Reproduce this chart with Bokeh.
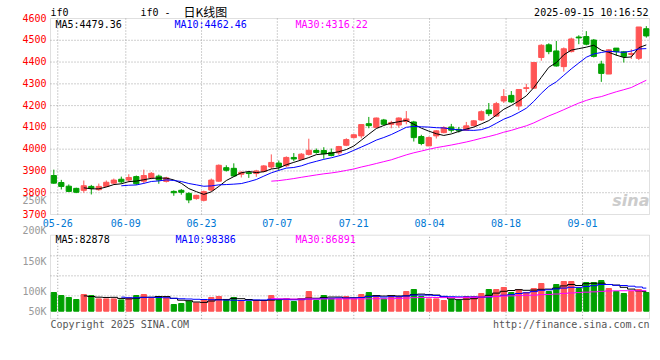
import pandas as pd
from bokeh.plotting import figure
from bokeh.models import ColumnDataSource, Label, Range1d, BoxAnnotation
from bokeh.embed import file_html
from bokeh.resources import INLINE

# ---------------- data ----------------
DATES = ["05-26", "05-27", "05-28", "05-29", "05-30",
         "06-03", "06-04", "06-05", "06-06", "06-09", "06-10", "06-11", "06-12", "06-13",
         "06-16", "06-17", "06-18", "06-19", "06-20", "06-23", "06-24", "06-25", "06-26", "06-27",
         "06-30", "07-01", "07-02", "07-03", "07-04", "07-07", "07-08", "07-09", "07-10", "07-11",
         "07-14", "07-15", "07-16", "07-17", "07-18", "07-21", "07-22", "07-23", "07-24", "07-25",
         "07-28", "07-29", "07-30", "07-31", "08-01", "08-04", "08-05", "08-06", "08-07", "08-08",
         "08-11", "08-12", "08-13", "08-14", "08-15", "08-18", "08-19", "08-20", "08-21", "08-22",
         "08-25", "08-26", "08-27", "08-28", "08-29", "09-01", "09-02", "09-03", "09-04", "09-05",
         "09-08", "09-09", "09-10", "09-11", "09-12", "09-15"]

OPEN = [3879, 3847, 3830, 3820, 3811, 3829, 3814, 3829, 3844, 3862,
        3858, 3874, 3853, 3868, 3876, 3852, 3806, 3811, 3797, 3773,
        3765, 3812, 3853, 3915, 3912, 3885, 3892, 3888, 3898, 3918,
        3936, 3924, 3962, 3953, 3976, 3994, 3994, 3985, 3983, 4018,
        4053, 4061, 4117, 4099, 4134, 4114, 4111, 4127, 4125, 4058,
        4015, 4061, 4076, 4102, 4091, 4087, 4108, 4134, 4180, 4152,
        4221, 4247, 4198, 4279, 4280, 4421, 4479, 4451, 4379, 4448,
        4515, 4517, 4501, 4391, 4345, 4464, 4447, 4435, 4417, 4553]
HIGH = [3906, 3859, 3838, 3823, 3856, 3836, 3842, 3856, 3865, 3874,
        3885, 3879, 3906, 3895, 3883, 3873, 3811, 3817, 3802, 3791,
        3810, 3865, 3930, 3926, 3935, 3898, 3898, 3905, 3927, 3976,
        3948, 3967, 3982, 3982, 4048, 4003, 4009, 4003, 4015, 4050,
        4069, 4114, 4148, 4145, 4139, 4130, 4146, 4175, 4130, 4066,
        4058, 4087, 4105, 4116, 4102, 4125, 4134, 4178, 4212, 4217,
        4276, 4267, 4274, 4300, 4398, 4482, 4486, 4497, 4467, 4512,
        4523, 4542, 4506, 4406, 4459, 4464, 4451, 4459, 4561, 4565]
LOW = [3841, 3815, 3803, 3798, 3800, 3792, 3809, 3826, 3836, 3842,
       3848, 3836, 3841, 3862, 3841, 3847, 3786, 3791, 3752, 3768,
       3760, 3805, 3850, 3897, 3874, 3870, 3868, 3873, 3894, 3909,
       3903, 3918, 3945, 3950, 3971, 3979, 3956, 3967, 3974, 4014,
       4050, 4050, 4096, 4098, 4110, 4096, 4099, 4114, 4035, 4018,
       4014, 4049, 4073, 4076, 4076, 4084, 4105, 4130, 4152, 4149,
       4212, 4212, 4179, 4262, 4279, 4406, 4436, 4379, 4356, 4444,
       4482, 4477, 4421, 4309, 4345, 4429, 4398, 4414, 4409, 4512]
CLOSE = [3844, 3829, 3806, 3802, 3832, 3820, 3829, 3848, 3858, 3850,
         3870, 3841, 3879, 3889, 3858, 3868, 3800, 3802, 3767, 3788,
         3805, 3858, 3926, 3903, 3877, 3894, 3888, 3900, 3923, 3939,
         3918, 3962, 3955, 3977, 3995, 3985, 3979, 3971, 4012, 4044,
         4066, 4113, 4108, 4143, 4114, 4122, 4143, 4139, 4053, 4026,
         4053, 4084, 4099, 4087, 4084, 4107, 4130, 4172, 4163, 4209,
         4242, 4217, 4274, 4282, 4398, 4477, 4448, 4382, 4461, 4506,
         4511, 4482, 4426, 4348, 4456, 4448, 4426, 4439, 4561, 4520]
VOLUME = [80400, 67500, 58900, 50300, 71800, 67500, 52900, 52900, 52900, 48600,
          57200, 67500, 71800, 54600, 63200, 57200, 28800, 33100, 43000, 35700,
          48600, 58900, 63200, 46000, 58900, 41700, 41700, 46000, 41700, 67500,
          50300, 52900, 41700, 52900, 84700, 46000, 67500, 52900, 52900, 63200,
          52900, 71800, 80400, 67500, 52900, 63200, 63200, 84700, 93300, 63200,
          52900, 52900, 46000, 50300, 46000, 63200, 63200, 76100, 93300, 93300,
          101900, 80400, 93300, 80400, 97600, 119100, 84700, 114800, 127700, 127700,
          97600, 123400, 123400, 132000, 97600, 84700, 76100, 84700, 93300, 80400]

PRICE_TICKS = [3700, 3800, 3900, 4000, 4100, 4200, 4300, 4400, 4500, 4600]
DATE_TICK_LABELS = ["05-26", "06-09", "06-23", "07-07", "07-21", "08-04", "08-18", "09-01"]
DATE_TICK_POS = [0.53, 9.6, 19.7, 29.8, 40.0, 50.1, 60.3, 70.5]
VOL_GRID = [66000, 152000, 238000]
VOL_AXIS_LABELS = ["250K", "200K", "150K", "100K", "50K"]

PRICE_MA_TEXT = ["MA5:4479.36", "MA10:4462.46", "MA30:4316.22"]
VOL_MA_TEXT = ["MA5:82878", "MA10:98386", "MA30:86891"]

# ---------------- geometry (page pixels) & styling ----------------
W, H = 656, 340
BAR0_PX, BAR_PX = 53.3, 7.5
PANEL_L, PANEL_R = 50, 649
PRICE_TOP_PX, PRICE_BOT_PX = 18, 214
VOL_TOP_PX, VOL_BOT_PX, VOL_ZERO_PX = 234.7, 318.3, 310.7
VOL_PER_PX = 4300
P0, P1 = PRICE_TICKS[0], PRICE_TICKS[-1]
K = (PRICE_BOT_PX - PRICE_TOP_PX) / (P1 - P0)


def dx(px):
    return (px - BAR0_PX) / BAR_PX


def dy(py):
    return P1 - (py - PRICE_TOP_PX) / K


def dv(py):
    return (VOL_ZERO_PX - py) * VOL_PER_PX


RED = "#ff5555"
GREEN = "#00a000"
GRID = "#a0a0a0"
BORDER = "#999999"
MONO = "DejaVu Sans Mono"
MA_COLORS = ["#000000", "#0000ff", "#ff00ff"]

df = pd.DataFrame({"open": OPEN, "high": HIGH, "low": LOW, "close": CLOSE, "vol": VOLUME})
df["x"] = range(len(df))
df["color"] = [RED if c >= o else GREEN for o, c in zip(df.open, df.close)]
df["top"] = df[["open", "close"]].max(axis=1)
df["bottom"] = df[["open", "close"]].min(axis=1)
for n in (5, 10, 30):
    df[f"ma{n}"] = df.close.rolling(n).mean()
    df[f"vma{n}"] = df.vol.rolling(n).mean()
src = ColumnDataSource(df)

X0, X1 = dx(PANEL_L), dx(PANEL_R)
VB, VT = dv(VOL_BOT_PX), dv(VOL_TOP_PX)

p = figure(width=W, height=H, x_range=Range1d(dx(0), dx(W)), y_range=Range1d(dy(H), dy(0)),
           x_axis_location=None, y_axis_location=None, min_border=0,
           output_backend="svg", toolbar_location=None, title=None,
           outline_line_color=None, background_fill_color="white", border_fill_color="white")
p.extra_y_ranges = {"vol": Range1d(dv(H), dv(0))}
p.grid.visible = False

# ---- grid lines (dotted) ----
nd = len(DATE_TICK_POS)
inner = PRICE_TICKS[1:-1]
p.segment(x0=DATE_TICK_POS, y0=[P0] * nd, x1=DATE_TICK_POS, y1=[P1] * nd,
          line_color=GRID, line_dash="1 2", line_width=1)
p.segment(x0=[X0] * len(inner), y0=inner, x1=[X1] * len(inner), y1=inner,
          line_color=GRID, line_dash="1 2", line_width=1)
p.segment(x0=DATE_TICK_POS, y0=[VB] * nd, x1=DATE_TICK_POS, y1=[VT] * nd,
          line_color=GRID, line_dash="1 2", line_width=1, y_range_name="vol")
p.segment(x0=[X0] * len(VOL_GRID), y0=VOL_GRID, x1=[X1] * len(VOL_GRID), y1=VOL_GRID,
          line_color=GRID, line_dash="1 2", line_width=1, y_range_name="vol")

# ---- candles ----
p.segment(x0="x", y0="low", x1="x", y1="high", line_color="color", line_width=1, source=src)
p.vbar(x="x", width=0.7, top="top", bottom="bottom", fill_color="color",
       line_color="color", line_width=1, source=src)
for n, c in zip((5, 10, 30), MA_COLORS):
    p.line(x="x", y=f"ma{n}", line_color=c, line_width=1, source=src)

# ---- volume ----
p.vbar(x="x", width=0.7, top="vol", bottom=0, fill_color="color",
       line_color="color", line_width=1, source=src, y_range_name="vol")
for n, c in zip((5, 10, 30), MA_COLORS):
    p.step(x="x", y=f"vma{n}", mode="center", line_color=c, line_width=1,
           source=src, y_range_name="vol")

# ---- panel borders ----
p.add_layout(BoxAnnotation(left=X0, right=X1, bottom=P0, top=P1, fill_color=None,
                           fill_alpha=0, line_color=BORDER, line_width=1))
p.add_layout(BoxAnnotation(left=X0, right=X1, bottom=dy(VOL_BOT_PX), top=dy(VOL_TOP_PX),
                           fill_color=None, fill_alpha=0, line_color=BORDER, line_width=1))


# ---------------- texts ----------------
def label(s, x, y, color, align="left", size="10px", font=MONO, style="normal",
          xo=0, yo=0, level="annotation"):
    p.add_layout(Label(x=x, y=y, x_offset=xo, y_offset=yo, text=s, text_color=color,
                       text_align=align, text_baseline="middle", text_font_size=size,
                       text_font=font, text_font_style=style, level=level))


def at(s, px, py, color, **kw):
    label(s, dx(px), dy(py), color, **kw)


# axis tick labels
for v in PRICE_TICKS:
    label(str(v), X0, v, "#ff0000", align="right", xo=-4, yo=1)
for pos, lab in zip(DATE_TICK_POS, DATE_TICK_LABELS):
    label(lab, pos, P0, "#0078d4", align="center", yo=-8)
for lab, py in zip(VOL_AXIS_LABELS, (200.3, 230.3, 261, 290.7, 310.7)):
    at(lab, 46, py, "#999999", align="right")

# headers
at("if0", 50, 12, "#000000")
at("if0 -", 140, 12, "#000000")
at("日K线图", 183, 11, "#000000", size="12px", font="Noto Sans CJK SC")
at("2025-09-15 10:16:52", 648, 12, "#000000", align="right")
for t, c, px in zip(PRICE_MA_TEXT, MA_COLORS, (55, 174, 295)):
    at(t, px, 24, c)
for t, c, px in zip(VOL_MA_TEXT, MA_COLORS, (55, 175, 295)):
    at(t, px, 238.5, c)
at("sina", 649, 200, "#cccccc", align="right", size="16px", font="DejaVu Sans",
   style="bold italic", level="underlay")
at("Copyright 2025 SINA.COM", 50, 324, "#555555")
at("http://finance.sina.com.cn", 649, 324, "#555555", align="right")

open("out.html", "w").write(file_html(p, INLINE))
